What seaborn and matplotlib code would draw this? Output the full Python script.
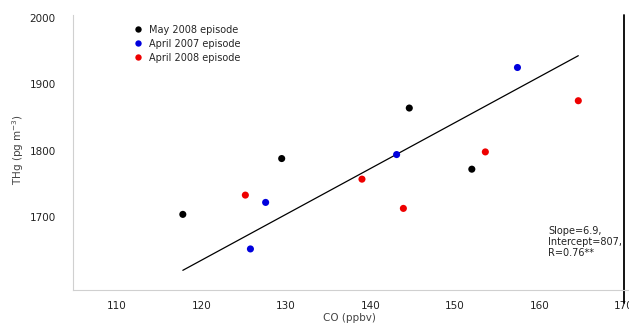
import matplotlib
matplotlib.use('Agg')
import matplotlib.pyplot as plt
import seaborn as sns
import pandas as pd

# CO (ppbv) and THg values, per episode
may08_co = [117.8, 129.5, 144.6, 152.0]
may08_thg = [1704, 1788, 1864, 1772]
apr07_co = [125.8, 127.6, 143.1, 157.4]
apr07_thg = [1652, 1722, 1794, 1925]
apr08_co = [125.2, 139.0, 143.9, 153.6, 164.6]
apr08_thg = [1733, 1757, 1713, 1798, 1875]

episodes = ['May 2008 episode', 'April 2007 episode', 'April 2008 episode']
episode_colors = ['black', '#0000dd', '#ee0000']

slope = 6.9
intercept = 807
r_text = 'R=0.76**'

df = pd.concat([
    pd.DataFrame({'co': may08_co, 'thg': may08_thg, 'episode': episodes[0]}),
    pd.DataFrame({'co': apr07_co, 'thg': apr07_thg, 'episode': episodes[1]}),
    pd.DataFrame({'co': apr08_co, 'thg': apr08_thg, 'episode': episodes[2]}),
], ignore_index=True)

sns.set_style('white')
plt.rcParams['font.family'] = ['DejaVu Sans']

fig = plt.figure(figsize=(6.29, 3.26), dpi=100)
ax = fig.add_axes([0.116, 0.110, 0.884, 0.844])

sns.scatterplot(data=df, x='co', y='thg', hue='episode', hue_order=episodes,
                palette=dict(zip(episodes, episode_colors)), s=26,
                edgecolor='none', ax=ax, zorder=3)

# regression line over the data range
fit_x = [df['co'].min(), df['co'].max()]
fit_y = [slope * v + intercept for v in fit_x]
ax.plot(fit_x, fit_y, color='black', lw=0.9)

ax.set_xlim(104.8, 170.6)
ax.set_ylim(1590, 2004)

for side in ['top', 'right']:
    ax.spines[side].set_visible(False)
for side in ['left', 'bottom']:
    ax.spines[side].set_color('#d0d0d0')
    ax.spines[side].set_linewidth(0.8)

ax.axvline(170, ymin=-0.045, ymax=1.0, color='black', lw=1.3, clip_on=False)

ax.set_xticks([110, 120, 130, 140, 150, 160, 170])
ax.set_yticks([1700, 1800, 1900, 2000])
ax.tick_params(axis='x', length=4, width=0.8, color='#555555', pad=3.5,
               labelsize=7.5, labelcolor='#222222')
ax.tick_params(axis='y', length=4, width=0.9, color='#333333', pad=8.5,
               labelsize=7.5, labelcolor='#222222')
for tick in ax.yaxis.get_major_ticks():
    if tick.get_loc() in (1800, 2000):
        tick.tick1line.set_visible(False)

ax.set_xlabel('')
ax.set_ylabel('')
fig.text(349 / 629, 1 - 318 / 326, 'CO (ppbv)', ha='center', va='center',
         fontsize=7.5, color='#444444')
fig.text(18 / 629, 1 - 150 / 326, 'THg (pg m$^{-3}$)', ha='center', va='center',
         rotation=90, fontsize=7.5, color='#444444')

sns.move_legend(ax, 'upper left', bbox_to_anchor=(129 / 629, 1 - 20 / 326),
                bbox_transform=fig.transFigure, frameon=False, title=None,
                fontsize=7, borderpad=0, handlelength=0.8, handletextpad=0.8,
                labelspacing=0.4, markerscale=0.9)

fig.text(548 / 629, 1 - 226 / 326,
         'Slope=%.1f,\nIntercept=%d,\n%s' % (slope, intercept, r_text),
         ha='left', va='top', fontsize=7, color='#222222', linespacing=1.15)

fig.savefig('out.png', dpi=100)
